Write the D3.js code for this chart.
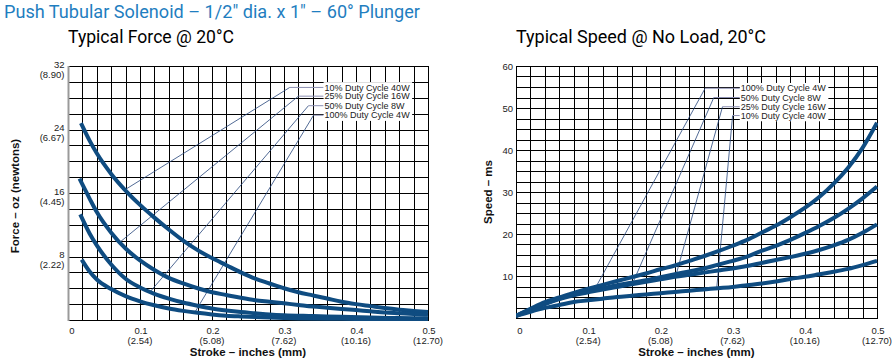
<!DOCTYPE html>
<html><head><meta charset="utf-8">
<script src="https://cdn.jsdelivr.net/npm/d3@7/dist/d3.min.js"></script>
<style>body{margin:0;background:#fff}svg{display:block}</style>
</head><body>
<svg id="c" width="896" height="364"></svg>
<script>
// ---------- DATA ----------
const strokeTicks = [0, 0.1, 0.2, 0.3, 0.4, 0.5];
const strokeTickLabels = ["0", "0.1", "0.2", "0.3", "0.4", "0.5"];
const strokeMmLabels = ["", "(2.54)", "(5.08)", "(7.62)", "(10.16)", "(12.70)"];
const forceTicks = [8, 16, 24, 32];
const forceNewtonLabels = ["(2.22)", "(4.45)", "(6.67)", "(8.90)"];
const speedTicks = [10, 20, 30, 40, 50, 60];

const forceNames = ["10% Duty Cycle 40W", "25% Duty Cycle 16W", "50% Duty Cycle 8W", "100% Duty Cycle 4W"];
const force10Stroke = [0.018,0.03,0.04,0.06,0.08,0.10,0.12,0.14,0.16,0.18,0.20,0.22,0.24,0.26,0.28,0.30,0.32,0.34,0.36,0.38,0.40,0.42,0.44,0.46,0.48,0.50];
const force10 =       [24.8,22.6,21.0,18.4,16.3,14.5,12.9,11.4,10.0,8.8,7.8,6.9,6.0,5.2,4.6,4.0,3.5,3.1,2.7,2.3,2.0,1.75,1.5,1.3,1.15,1.0];
const force25Stroke = [0.016,0.03,0.04,0.06,0.08,0.10,0.12,0.14,0.16,0.18,0.20,0.22,0.24,0.26,0.28,0.30,0.32,0.34,0.36,0.38,0.40,0.42,0.44,0.46,0.48,0.50];
const force25 =       [17.8,15.3,13.6,11.0,9.0,7.5,6.3,5.3,4.6,4.0,3.5,3.15,2.8,2.5,2.3,2.1,1.9,1.7,1.55,1.4,1.25,1.1,0.95,0.85,0.75,0.65];
const force50Stroke = [0.017,0.03,0.04,0.06,0.08,0.10,0.12,0.14,0.16,0.18,0.20,0.22,0.24,0.26,0.28,0.30,0.34,0.38,0.42,0.46,0.50];
const force50 =       [13.3,10.9,9.4,7.0,5.2,4.1,3.3,2.7,2.2,1.8,1.45,1.2,1.0,0.85,0.7,0.6,0.5,0.4,0.3,0.25,0.2];
const force100Stroke = [0.019,0.03,0.04,0.06,0.08,0.10,0.12,0.14,0.16,0.18,0.20,0.22,0.24,0.28,0.32,0.38,0.44,0.50];
const force100 =       [7.6,6.1,5.1,3.9,3.0,2.35,1.85,1.45,1.15,0.9,0.7,0.55,0.45,0.3,0.2,0.15,0.1,0.1];

const forceLeaderStroke = [0.079, 0.072, 0.114, 0.176];
const forceLeaderElbow = [[0.308, 29.3], [0.320, 28.2], [0.334, 27.0], [0.341, 25.8]];
const forceLabelStroke = 0.355;

const speedNames = ["100% Duty Cycle 4W", "50% Duty Cycle 8W", "25% Duty Cycle 16W", "10% Duty Cycle 40W"];
const speedStroke = [0,0.02,0.04,0.06,0.08,0.10,0.12,0.14,0.16,0.18,0.20,0.22,0.24,0.26,0.28,0.30,0.32,0.34,0.36,0.38,0.40,0.42,0.44,0.46,0.48,0.50];
const speed100 = [0.5,2.2,3.8,4.9,6.0,7.0,7.9,8.8,9.7,10.6,11.6,12.5,13.6,14.7,15.9,17.2,18.6,20.3,22.0,24.0,26.2,28.8,32.0,35.8,40.5,46.5];
const speed50  = [0.5,2.0,3.4,4.6,5.7,6.4,7.1,7.8,8.4,9.0,9.7,10.4,11.1,11.8,12.7,13.6,14.6,16.0,17.2,18.6,20.2,21.9,23.8,26.0,28.5,31.3];
const speed25  = [0.5,1.9,3.3,4.5,5.4,6.1,6.8,7.4,8.0,8.6,9.2,9.8,10.3,10.8,11.3,11.8,12.4,13.1,13.8,14.5,15.3,16.2,17.3,18.6,20.3,22.3];
const speed10  = [0.5,1.5,2.4,3.1,3.8,4.2,4.6,5.0,5.3,5.6,5.9,6.2,6.5,6.8,7.1,7.4,7.8,8.2,8.7,9.3,9.8,10.4,11.0,11.7,12.6,13.6];

const speedLeaderStroke = [0.111, 0.162, 0.221, 0.278];
const speedLeaderElbow = [[0.262, 54.7], [0.274, 52.5], [0.286, 50.3], [0.300, 48.2]];
const speedLabelStroke = 0.310;

// ---------- DRAW ----------
const svg = d3.select("#c");
const FONT = "'Liberation Sans', Arial, sans-serif";
const CURVE = "#0f4c81";

svg.append("text").attr("x", 4).attr("y", 17.5)
  .attr("font-family", "Roboto, 'Open Sans', sans-serif").attr("font-size", 17.5).attr("font-weight", 400)
  .attr("fill", "#1f7ec0").attr("textLength", 416).attr("lengthAdjust", "spacingAndGlyphs")
  .text("Push Tubular Solenoid \u2013 1/2\" dia. x 1\" \u2013 60\u00b0 Plunger");

function interp(xs, ys, x) {
  for (let i = 0; i < xs.length - 1; i++) {
    if (x >= xs[i] && x <= xs[i+1]) return ys[i] + (ys[i+1]-ys[i])*(x-xs[i])/(xs[i+1]-xs[i]);
  }
  return ys[ys.length-1];
}

function panel(cfg) {
  const g = svg.append("g");
  const x = d3.scaleLinear().domain([0, 0.5]).range([cfg.x0, cfg.x1]);
  const y = d3.scaleLinear().domain([0, cfg.ymax]).range([cfg.y1, cfg.y0]);

  g.append("text").attr("x", cfg.x0).attr("y", 43)
    .attr("font-family", "Roboto, sans-serif").attr("font-size", 17.5).attr("font-weight", 400).attr("fill", "#000")
    .attr("textLength", cfg.titleLen).attr("lengthAdjust", "spacingAndGlyphs").text(cfg.title);

  // grid
  const vx = d3.range(0, 0.5001, 0.02);
  const hy = d3.range(0, cfg.ymax + 0.001, cfg.ystep);
  g.append("g").selectAll("line").data(vx).join("line")
    .attr("x1", d => Math.round(x(d)) + 0.5).attr("x2", d => Math.round(x(d)) + 0.5)
    .attr("y1", cfg.y0).attr("y2", cfg.y1).attr("stroke", "#000").attr("stroke-width", 1);
  g.append("g").selectAll("line").data(hy).join("line")
    .attr("y1", d => Math.round(y(d)) + 0.5).attr("y2", d => Math.round(y(d)) + 0.5)
    .attr("x1", cfg.x0).attr("x2", cfg.x1 + 1).attr("stroke", "#000").attr("stroke-width", 1);
  g.append("line").attr("x1", cfg.x0 + 0.5).attr("x2", cfg.x0 + 0.5).attr("y1", cfg.y0).attr("y2", cfg.y1 + 1)
    .attr("stroke", cfg.axisColor).attr("stroke-width", cfg.axisWidth);

  // x tick labels
  const xl = g.append("g").attr("font-family", FONT).attr("font-size", 9.5).attr("fill", "#222").attr("text-anchor", "middle");
  strokeTicks.forEach((t, i) => {
    xl.append("text").attr("x", x(t) + (i === 0 ? 4 : 1)).attr("y", 334).text(strokeTickLabels[i]);
    if (strokeMmLabels[i]) xl.append("text").attr("x", x(t)).attr("y", 344).text(strokeMmLabels[i]);
  });
  g.append("text").attr("x", (cfg.x0 + cfg.x1) / 2).attr("y", 356).attr("text-anchor", "middle")
    .attr("font-family", FONT).attr("font-weight", "bold").attr("font-size", 11.5).attr("fill", "#111")
    .text("Stroke \u2013 inches (mm)");

  // y labels
  cfg.yLabels(g, y);
  g.append("text").attr("transform", `translate(${cfg.yTitleX},${(cfg.y0 + cfg.y1) / 2 + cfg.yTitleDy}) rotate(-90)`)
    .attr("text-anchor", "middle").attr("font-family", FONT).attr("font-weight", "bold")
    .attr("font-size", 11.5).attr("fill", "#111").text(cfg.yTitle);

  // leaders
  const lg = g.append("g");
  cfg.series.forEach((s, i) => {
    const ax = cfg.leaderStroke[i];
    const ay = interp(s.xs, s.ys, ax);
    const e = cfg.leaderElbow[i];
    lg.append("line").attr("x1", x(ax)).attr("y1", y(ay)).attr("x2", x(e[0])).attr("y2", y(e[1]))
      .attr("stroke", "#24447a").attr("stroke-width", 0.8);
    lg.append("line").attr("x1", x(e[0])).attr("y1", y(e[1])).attr("x2", x(cfg.labelStroke)).attr("y2", y(e[1]))
      .attr("stroke", "#8c8fb2").attr("stroke-width", 1);
  });
  // legend labels with white background
  const lab = g.append("g");
  const bg = lab.append("rect").attr("fill", "#fff");
  const tg = lab.append("g").attr("font-family", FONT).attr("font-size", 9).attr("fill", "#222");
  cfg.series.forEach((s, i) => {
    tg.append("text").attr("x", x(cfg.labelStroke) + 1).attr("y", y(cfg.leaderElbow[i][1]) + 3.2).text(s.name);
  });
  const bb = tg.node().getBBox();
  bg.attr("x", bb.x - 1).attr("y", bb.y - 0.5).attr("width", bb.width + 3).attr("height", bb.height + 1);

  // curves
  const cid = "clip" + cfg.id;
  svg.append("clipPath").attr("id", cid).append("rect")
    .attr("x", cfg.x0).attr("y", cfg.y0).attr("width", cfg.x1 - cfg.x0 + 1).attr("height", cfg.y1 - cfg.y0 + 1);
  const line = d3.line().x(d => x(d[0])).y(d => y(d[1])).curve(d3.curveMonotoneX);
  g.append("g").attr("clip-path", `url(#${cid})`).selectAll("path").data(cfg.series).join("path")
    .attr("d", s => line(s.xs.map((v, j) => [v, s.ys[j]])))
    .attr("fill", "none").attr("stroke", CURVE).attr("stroke-width", 4);
}

panel({
  id: "L", x0: 68, x1: 428, y0: 66, y1: 320, ymax: 32, ystep: 2,
  title: "Typical Force @ 20\u00b0C", titleLen: 166,
  axisColor: "#9a9a9a", axisWidth: 2,
  yTitle: "Force \u2013 oz (newtons)", yTitleX: 18.5, yTitleDy: 3,
  yLabels: (g, y) => {
    const t = g.append("g").attr("font-family", FONT).attr("font-size", 9.5).attr("fill", "#222").attr("text-anchor", "end");
    forceTicks.forEach((v, i) => {
      t.append("text").attr("x", 64.5).attr("y", y(v) + 1.5).text(v);
      t.append("text").attr("x", 64.5).attr("y", y(v) + 11.5).text(forceNewtonLabels[i]);
    });
  },
  series: [
    { name: forceNames[0], xs: force10Stroke, ys: force10 },
    { name: forceNames[1], xs: force25Stroke, ys: force25 },
    { name: forceNames[2], xs: force50Stroke, ys: force50 },
    { name: forceNames[3], xs: force100Stroke, ys: force100 }
  ],
  leaderStroke: forceLeaderStroke, leaderElbow: forceLeaderElbow, labelStroke: forceLabelStroke
});

panel({
  id: "R", x0: 516, x1: 877, y0: 66, y1: 318, ymax: 60, ystep: 2.5,
  title: "Typical Speed @ No Load, 20\u00b0C", titleLen: 250,
  axisColor: "#000", axisWidth: 1,
  yTitle: "Speed \u2013 ms", yTitleX: 492, yTitleDy: 0,
  yLabels: (g, y) => {
    const t = g.append("g").attr("font-family", FONT).attr("font-size", 9.5).attr("fill", "#222").attr("text-anchor", "end");
    speedTicks.forEach(v => { t.append("text").attr("x", 513).attr("y", y(v) + 3.5).text(v); });
  },
  series: [
    { name: speedNames[0], xs: speedStroke, ys: speed100 },
    { name: speedNames[1], xs: speedStroke, ys: speed50 },
    { name: speedNames[2], xs: speedStroke, ys: speed25 },
    { name: speedNames[3], xs: speedStroke, ys: speed10 }
  ],
  leaderStroke: speedLeaderStroke, leaderElbow: speedLeaderElbow, labelStroke: speedLabelStroke
});
</script>
</body></html>
